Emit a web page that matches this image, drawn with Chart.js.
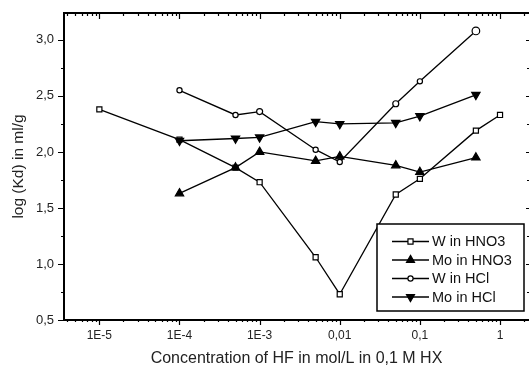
<!DOCTYPE html>
<html>
<head>
<meta charset="utf-8">
<script src="https://cdn.jsdelivr.net/npm/chart.js@4.4.1/dist/chart.umd.min.js"></script>
<style>
  html, body { margin: 0; padding: 0; background: #fff; overflow: hidden; }
  #chart { display: block; }
</style>
</head>
<body>
<canvas id="chart" width="529" height="367"></canvas>
<script>
// Kd of W / Mo vs HF concentration

const wHno3X = [1e-5, 1e-4, 5e-4, 1e-3, 5e-3, 0.01, 0.05, 0.1, 0.5, 1];
const wHno3Y = [2.38, 2.11, 1.86, 1.73, 1.06, 0.73, 1.62, 1.76, 2.19, 2.33];

const hfX = [1e-4, 5e-4, 1e-3, 5e-3, 0.01, 0.05, 0.1, 0.5];
const moHno3Y = [1.63, 1.86, 2.0, 1.92, 1.96, 1.88, 1.82, 1.95];
const wHclY = [2.55, 2.33, 2.36, 2.02, 1.91, 2.43, 2.63, 3.08];
const moHclY = [2.1, 2.12, 2.13, 2.27, 2.25, 2.26, 2.32, 2.51];

const seriesNames = ["W in HNO3", "Mo in HNO3", "W in HCl", "Mo in HCl"];

const xMajorTicks = [1e-5, 1e-4, 1e-3, 0.01, 0.1, 1];
const xTickLabels = ["1E-5", "1E-4", "1E-3", "0,01", "0,1", "1"];
const yMajorTicks = [0.5, 1.0, 1.5, 2.0, 2.5, 3.0];
const yTickLabels = ["0,5", "1,0", "1,5", "2,0", "2,5", "3,0"];

const X_MIN = 3.62e-6;
const X_MAX = 2.3;
const Y_MIN = 0.5;
const Y_MAX = 3.24;

function toPoints(xs, ys) {
  return xs.map((x, i) => ({ x: x, y: ys[i] }));
}

const datasets = [
  {
    label: seriesNames[3],
    data: toPoints(hfX, moHclY),
    pointStyle: "triangle",
    rotation: 180,
    pointRadius: 4.8,
    backgroundColor: "#000",
    order: 1,
  },
  {
    label: seriesNames[1],
    data: toPoints(hfX, moHno3Y),
    pointStyle: "triangle",
    rotation: 0,
    pointRadius: 4.8,
    backgroundColor: "#000",
    order: 2,
  },
  {
    label: seriesNames[2],
    data: toPoints(hfX, wHclY),
    pointStyle: "circle",
    rotation: 0,
    pointRadius: [2.6, 2.6, 3, 2.6, 2.6, 3, 2.6, 3.8],
    backgroundColor: "#fff",
    order: 3,
  },
  {
    label: seriesNames[0],
    data: toPoints(wHno3X, wHno3Y),
    pointStyle: "rect",
    rotation: 0,
    pointRadius: 3.6,
    backgroundColor: "#fff",
    order: 4,
  },
].map((ds) => Object.assign(ds, {
  showLine: true,
  borderColor: "#000",
  borderWidth: 1.3,
  pointBorderColor: "#000",
  pointBackgroundColor: ds.backgroundColor,
  pointBorderWidth: 1.2,
  pointRotation: ds.rotation,
  pointHoverRadius: ds.pointRadius,
}));

// frame + mirrored ticks
const framePlugin = {
  id: "frame",
  afterDraw(chart) {
    const { ctx, chartArea: a, scales } = chart;
    const xs = scales.x;
    const ys = scales.y;
    ctx.save();
    ctx.strokeStyle = "#000";

    ctx.lineWidth = 1.2;
    ctx.beginPath();
    for (let p = -6; p <= 0; p++) {
      for (let k = 1; k <= 9; k++) {
        const v = k * Math.pow(10, p);
        if (v < X_MIN || v > X_MAX) continue;
        const px = Math.round(xs.getPixelForValue(v)) + 0.5;
        const len = k === 1 ? 6 : 3;
        ctx.moveTo(px, a.bottom);
        ctx.lineTo(px, a.bottom + len - 1);
        ctx.moveTo(px, a.top);
        ctx.lineTo(px, a.top + len);
      }
    }
    for (let v = 0.5; v <= 3.01; v += 0.25) {
      const py = Math.round(ys.getPixelForValue(v)) + 0.5;
      const major = Math.abs(v * 2 - Math.round(v * 2)) < 1e-6;
      const len = major ? 6 : 3;
      ctx.moveTo(a.left - len, py);
      ctx.lineTo(a.left, py);
      ctx.moveTo(a.right, py);
      ctx.lineTo(a.right - (major ? 3 : 2), py);
    }
    ctx.stroke();

    ctx.lineWidth = 2;
    ctx.beginPath();
    ctx.moveTo(a.left, a.bottom);
    ctx.lineTo(a.left, a.top);
    ctx.lineTo(a.right, a.top);
    ctx.moveTo(a.left - 1, a.bottom);
    ctx.lineTo(a.right, a.bottom);
    ctx.stroke();
    ctx.restore();
  },
};

// boxed legend with line + marker samples
const legendPlugin = {
  id: "boxLegend",
  afterDraw(chart) {
    const { ctx } = chart;
    const box = { left: 377, top: 224, right: 524, bottom: 311 };
    ctx.save();
    ctx.fillStyle = "#fff";
    ctx.fillRect(box.left, box.top, box.right - box.left, box.bottom - box.top);
    ctx.strokeStyle = "#000";
    ctx.lineWidth = 1.5;
    ctx.strokeRect(box.left, box.top, box.right - box.left, box.bottom - box.top);

    const order = [3, 1, 2, 0];
    ctx.font = "14.5px 'Liberation Sans', Arial, sans-serif";
    ctx.textBaseline = "middle";
    order.forEach((dsIndex, row) => {
      const ds = chart.data.datasets[dsIndex];
      const y = 241.5 + row * 18.5;
      ctx.strokeStyle = "#000";
      ctx.lineWidth = 1.3;
      ctx.beginPath();
      ctx.moveTo(392, y);
      ctx.lineTo(429, y);
      ctx.stroke();
      ctx.fillStyle = ds.pointBackgroundColor;
      ctx.strokeStyle = "#000";
      ctx.lineWidth = 1.2;
      const r = Array.isArray(ds.pointRadius) ? 2.6 : ds.pointRadius;
      Chart.helpers.drawPoint(ctx, {
        pointStyle: ds.pointStyle,
        radius: ds.pointStyle === "triangle" ? 4.6 : r,
        rotation: ds.pointRotation,
        borderWidth: 1.2,
      }, 410.5, y);
      ctx.fillStyle = "#111";
      ctx.fillText(ds.label, 432, y + 0.5);
    });
    ctx.restore();
  },
};

new Chart(document.getElementById("chart"), {
  type: "scatter",
  data: { datasets: datasets },
  options: {
    responsive: false,
    animation: false,
    devicePixelRatio: 1,
    layout: { autoPadding: false, padding: { top: 13, right: 0, bottom: 0, left: 0 } },
    plugins: {
      legend: { display: false },
      tooltip: { enabled: false },
    },
    scales: {
      x: {
        type: "logarithmic",
        min: X_MIN,
        max: X_MAX,
        grid: { display: false, drawTicks: false },
        border: { display: false },
        afterBuildTicks: (scale) => {
          scale.ticks = xMajorTicks.map((v) => ({ value: v }));
        },
        afterFit: (scale) => {
          scale.height = 47;
          scale.paddingLeft = 0;
          scale.paddingRight = 0;
        },
        ticks: {
          autoSkip: false,
          maxRotation: 0,
          padding: 8,
          color: "#222",
          font: { family: "'Liberation Sans', Arial, sans-serif", size: 12 },
          callback: (v, i) => xTickLabels[i],
        },
        title: {
          display: true,
          text: "Concentration of HF in mol/L in 0,1 M HX",
          color: "#222",
          padding: { top: 0, bottom: 0 },
          font: { family: "'Liberation Sans', Arial, sans-serif", size: 16, lineHeight: 1 },
        },
      },
      y: {
        min: Y_MIN,
        max: Y_MAX,
        grid: { display: false, drawTicks: false },
        border: { display: false },
        afterBuildTicks: (scale) => {
          scale.ticks = yMajorTicks.map((v) => ({ value: v }));
        },
        afterFit: (scale) => {
          scale.width = 64;
          scale.paddingTop = 0;
          scale.paddingBottom = 0;
        },
        ticks: {
          padding: 10,
          color: "#222",
          font: { family: "'Liberation Sans', Arial, sans-serif", size: 13 },
          callback: (v, i) => yTickLabels[i],
        },
        title: {
          display: true,
          text: "log (Kd) in ml/g",
          color: "#222",
          padding: { top: 11, bottom: 0 },
          font: { family: "'Liberation Sans', Arial, sans-serif", size: 15.5, lineHeight: 1 },
        },
      },
    },
  },
  plugins: [framePlugin, legendPlugin],
});
</script>
</body>
</html>
